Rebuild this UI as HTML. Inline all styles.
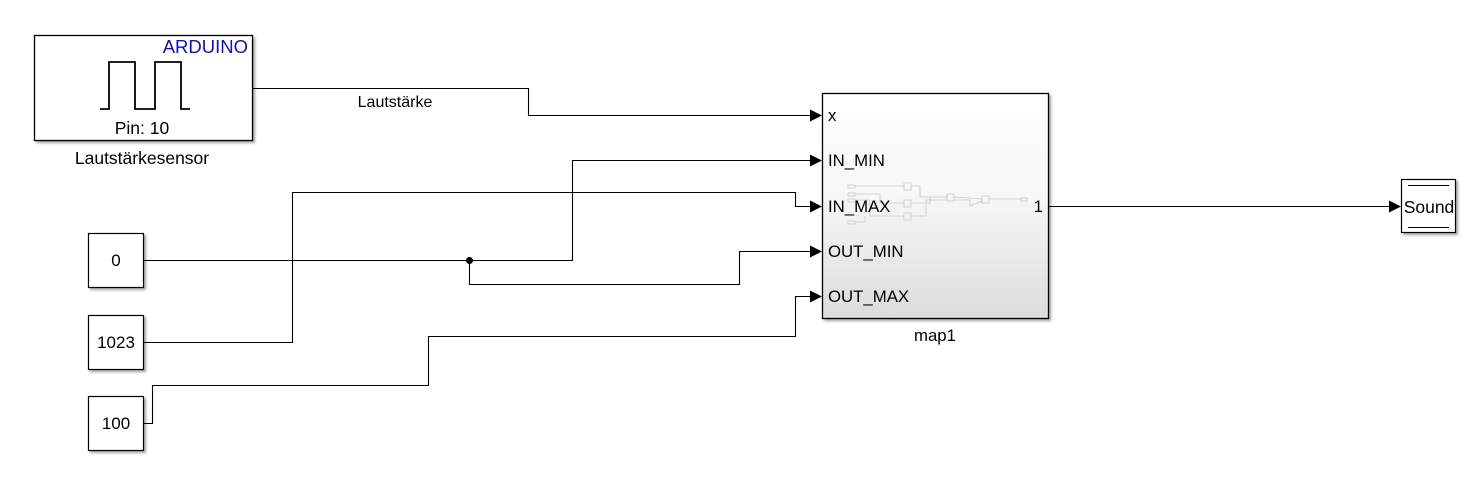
<!DOCTYPE html>
<html><head><meta charset="utf-8"><style>
html,body{margin:0;padding:0;background:#fff;}
svg{display:block;font-family:"Liberation Sans",Arial,sans-serif;}
</style></head><body>
<svg width="1475" height="494" viewBox="0 0 1475 494" xmlns="http://www.w3.org/2000/svg">
<defs>
<linearGradient id="g" x1="0" y1="0" x2="0" y2="1">
<stop offset="0" stop-color="#ffffff"/><stop offset="0.45" stop-color="#f7f7f7"/><stop offset="1" stop-color="#dcdcdc"/>
</linearGradient>
<filter id="sh" x="-10%" y="-10%" width="130%" height="130%"><feDropShadow dx="2" dy="2" stdDeviation="1.2" flood-color="#000" flood-opacity="0.35"/></filter>
</defs>
<rect x="34.5" y="35.5" width="218" height="105" fill="#fff" stroke="#000" stroke-width="1.3" filter="url(#sh)"/>
<text x="248" y="53" font-size="18.5" fill="#1010c0" text-anchor="end">ARDUINO</text>
<polyline points="100,109 109,109 109,62 135,62 135,109 155,109 155,62 181,62 181,109 190,109" fill="none" stroke="#000" stroke-width="1.8"/>
<text x="142" y="134" font-size="17.5" text-anchor="middle">Pin: 10</text>
<text x="142" y="164" font-size="17.5" text-anchor="middle">Lautstärkesensor</text>
<rect x="88.5" y="233.5" width="55" height="54" fill="#fff" stroke="#000" stroke-width="1.2" filter="url(#sh)"/>
<text x="116" y="266" font-size="17" text-anchor="middle">0</text>
<rect x="88.5" y="315.5" width="55" height="54" fill="#fff" stroke="#000" stroke-width="1.2" filter="url(#sh)"/>
<text x="116" y="348" font-size="17" text-anchor="middle">1023</text>
<rect x="88.5" y="396.5" width="55" height="54" fill="#fff" stroke="#000" stroke-width="1.2" filter="url(#sh)"/>
<text x="116" y="429" font-size="17" text-anchor="middle">100</text>
<rect x="822.5" y="93.5" width="226" height="225" fill="url(#g)" stroke="#000" stroke-width="1.3" filter="url(#sh)"/>
<g fill="none" stroke="#c8c8c8" stroke-width="0.8">
<rect x="848" y="185" width="7" height="3"/><rect x="848" y="193" width="7" height="3"/><rect x="848" y="199" width="7" height="3"/><rect x="848" y="221" width="7" height="3"/>
<rect x="904" y="183" width="7" height="7"/><rect x="904" y="200" width="7" height="7"/><rect x="904" y="213" width="7" height="7"/>
<rect x="947" y="194" width="7" height="7"/><rect x="982" y="196" width="7" height="7"/><rect x="1021" y="198" width="6" height="3"/>
<polyline points="855,186 904,186"/><polyline points="855,194 880,194 880,203 904,203"/><polyline points="855,200 870,200 870,216 904,216"/>
<polyline points="855,222 865,222 865,216"/><polyline points="911,186 920,186 920,197 947,197"/><polyline points="911,203 930,203 930,197"/>
<polyline points="911,216 926,216 926,200 947,200"/><polyline points="954,197 982,199"/><polyline points="954,200 970,200 970,206 982,201"/>
<polyline points="989,199 1021,199"/>
</g>
<text x="828" y="121" font-size="16.8">x</text>
<text x="828" y="166" font-size="16.8">IN_MIN</text>
<text x="828" y="212" font-size="16.8">IN_MAX</text>
<text x="828" y="257" font-size="16.8">OUT_MIN</text>
<text x="828" y="302" font-size="16.8">OUT_MAX</text>
<text x="1043" y="212" font-size="16.8" text-anchor="end">1</text>
<text x="935" y="341" font-size="16.8" text-anchor="middle">map1</text>
<rect x="1401.5" y="179.5" width="54" height="53" fill="#fff" stroke="#000" stroke-width="1.2" filter="url(#sh)"/>
<line x1="1408" y1="185.5" x2="1449" y2="185.5" stroke="#000"/>
<line x1="1408" y1="227.5" x2="1449" y2="227.5" stroke="#000"/>
<text x="1429" y="213" font-size="17.5" text-anchor="middle">Sound</text>
<g fill="none" stroke="#000" stroke-width="1.1">
<polyline points="253,88.5 528.5,88.5 528.5,115.5 812,115.5"/>
<polyline points="144,260.5 572.5,260.5 572.5,160.5 812,160.5"/>
<polyline points="469.5,260.5 469.5,284.5 739.5,284.5 739.5,251.5 812,251.5"/>
<polyline points="144,342.5 292.5,342.5 292.5,192.5 795.5,192.5 795.5,206.5 812,206.5"/>
<polyline points="144,423.5 152.5,423.5 152.5,385.5 428.5,385.5 428.5,336.5 795.5,336.5 795.5,296.5 812,296.5"/>
<polyline points="1049,206.5 1390,206.5"/>
</g>
<circle cx="469.5" cy="260.5" r="3.5" fill="#000"/>
<g fill="#000">
<polygon points="810,109.5 822,115.5 810,121.5"/>
<polygon points="810,154.5 822,160.5 810,166.5"/>
<polygon points="810,200.5 822,206.5 810,212.5"/>
<polygon points="810,245.5 822,251.5 810,257.5"/>
<polygon points="810,290.5 822,296.5 810,302.5"/>
<polygon points="1389,200.5 1401,206.5 1389,212.5"/>
</g>
<text x="395" y="107" font-size="16" text-anchor="middle">Lautstärke</text>
</svg>
</body></html>
